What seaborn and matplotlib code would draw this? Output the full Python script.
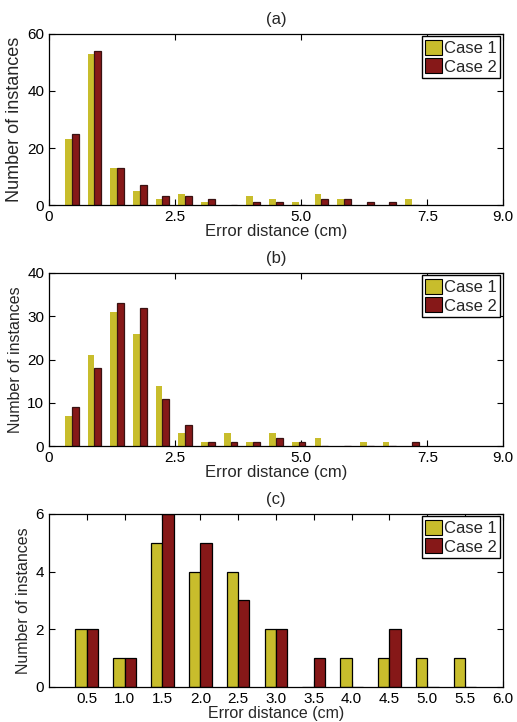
import numpy as np
import pandas as pd
import seaborn as sns
import matplotlib.pyplot as plt

# bin centres and counts
bins_ab = [0.45, 0.90, 1.35, 1.80, 2.25, 2.70, 3.15, 3.60,
           4.05, 4.50, 4.95, 5.40, 5.85, 6.30, 6.75, 7.20]
case1_a = [23, 53, 13, 5, 2, 4, 1, 0, 3, 2, 1, 4, 2, 0, 0, 2]
case2_a = [25, 54, 13, 7, 3, 3, 2, 0, 1, 1, 0, 2, 2, 1, 1, 0]
case1_b = [7, 21, 31, 26, 14, 3, 1, 3, 1, 3, 1, 2, 0, 1, 1, 0]
case2_b = [9, 18, 33, 32, 11, 5, 1, 1, 1, 2, 1, 0, 0, 0, 0, 1]

bins_c = [0.5, 1.0, 1.5, 2.0, 2.5, 3.0, 3.5, 4.0, 4.5, 5.0, 5.5]
case1_c = [2, 1, 5, 4, 4, 2, 0, 1, 1, 1, 1]
case2_c = [2, 1, 6, 5, 3, 2, 1, 0, 2, 0, 0]

cases = ["Case 1", "Case 2"]
colors = {"Case 1": "#c8bd2c", "Case 2": "#861818"}

sns.set_style("ticks")
plt.rcParams["font.family"] = ["Liberation Sans", "DejaVu Sans"]
plt.rcParams["xtick.direction"] = "in"
plt.rcParams["ytick.direction"] = "in"
plt.rcParams["xtick.top"] = True
plt.rcParams["ytick.right"] = True


def long_df(x, c1, c2):
    return pd.DataFrame({
        "x": list(x) * 2,
        "n": list(c1) + list(c2),
        "Case": ["Case 1"] * len(c1) + ["Case 2"] * len(c2),
    })


fig = plt.figure(figsize=(5.17, 7.22), dpi=100)

panels = [
    ("(a)", long_df(bins_ab, case1_a, case2_a), [0.0948, 0.716, 0.878, 0.237],
     (0, 9), [0, 2.5, 5, 7.5, 9], ["0", "2.5", "5.0", "7.5", "9.0"], (0, 60), [0, 20, 40, 60], False),
    ("(b)", long_df(bins_ab, case1_b, case2_b), [0.0948, 0.382, 0.878, 0.240],
     (0, 9), [0, 2.5, 5, 7.5, 9], ["0", "2.5", "5.0", "7.5", "9.0"], (0, 40), [0, 10, 20, 30, 40], False),
    ("(c)", long_df(bins_c, case1_c, case2_c), [0.0948, 0.0485, 0.878, 0.2396],
     (0, 6), bins_c + [6.0], [f"{v:.1f}" for v in bins_c + [6.0]], (0, 6), [0, 2, 4, 6], True),
]

for title, df, rect, xlim, xt, xtl, ylim, yt, black_edges in panels:
    ax = fig.add_axes(rect)
    sns.barplot(data=df, x="x", y="n", hue="Case", hue_order=cases, palette=colors,
                native_scale=True, width=0.6, saturation=1, dodge=True, ax=ax,
                linewidth=0)
    for i, cont in enumerate(ax.containers):
        for bar in cont:
            if black_edges:
                bar.set_edgecolor("black")
                bar.set_linewidth(0.9)
            elif i == 1:
                bar.set_edgecolor("#3a1212")
                bar.set_linewidth(0.9)
    ax.set_xlim(*xlim)
    ax.set_ylim(*ylim)
    ax.set_xticks(xt)
    ax.set_xticklabels(xtl)
    ax.set_yticks(yt)
    ax.tick_params(labelsize=11, length=4, width=0.8, colors="black")
    for s in ax.spines.values():
        s.set_visible(True)
        s.set_linewidth(0.9)
        s.set_color("black")
    ax.set_title(title, fontsize=12, pad=7)
    ax.set_xlabel("Error distance (cm)", fontsize=12 if title != "(c)" else 11.5, labelpad=0)
    ax.set_ylabel("Number of instances", fontsize=13 if title == "(a)" else 11.5, labelpad=3)

    old = ax.get_legend()
    handles = old.legend_handles
    labels = [t.get_text() for t in old.get_texts()]
    for h in handles:
        h.set_edgecolor("black")
        h.set_linewidth(0.8)
    leg = ax.legend(handles, labels, loc="upper right", fontsize=12, frameon=True,
                    fancybox=False, edgecolor="black", framealpha=1,
                    handlelength=1.0, handleheight=1.0, handletextpad=0.15,
                    borderpad=0.2, labelspacing=0.15, borderaxespad=0.15)
    leg.get_frame().set_linewidth(1.0)

fig.savefig("out.png", dpi=100)
